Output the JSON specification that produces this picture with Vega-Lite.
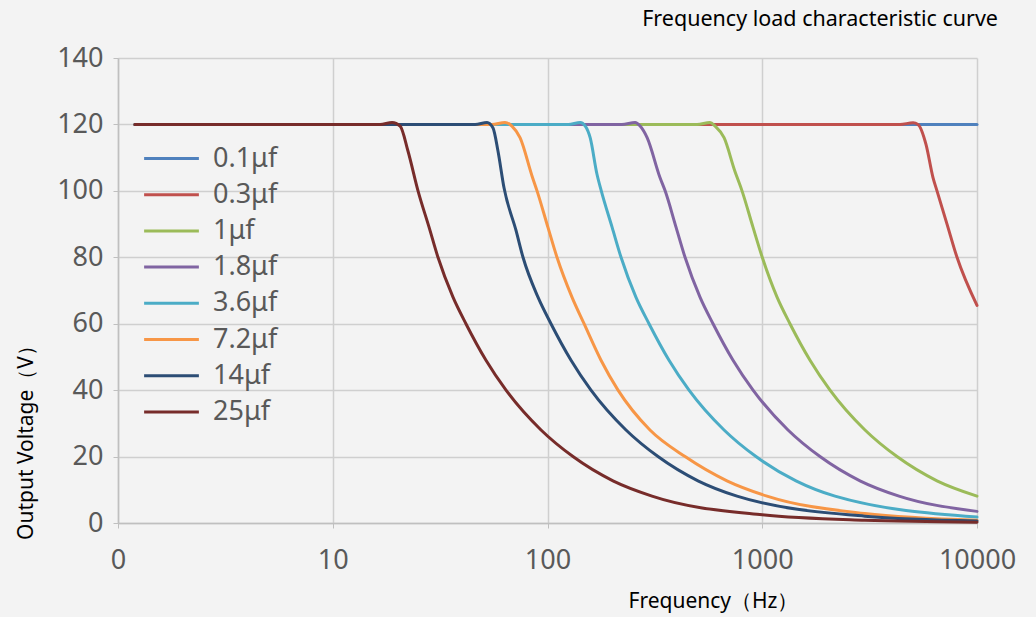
{
  "$schema": "https://vega.github.io/schema/vega-lite/v6.json",
  "width": 859,
  "height": 465,
  "autosize": "none",
  "padding": {"left": 118, "top": 58, "right": 59, "bottom": 94},
  "background": "#f3f3f3",
  "title": {
    "text": "Frequency load characteristic curve",
    "anchor": "end",
    "frame": "group",
    "dx": 21,
    "offset": 14,
    "font": "Noto Sans",
    "fontSize": 21.5,
    "fontWeight": "normal",
    "color": "#000000"
  },
  "config": {
    "view": {"stroke": null},
    "font": "Noto Sans"
  },
  "data": {
    "values": [
      {"series": "0.1μf", "f": 1.2, "v": 120},
      {"series": "0.1μf", "f": 10000, "v": 120},

      {"series": "0.3μf", "f": 1.2, "v": 120},
      {"series": "0.3μf", "f": 4380, "v": 120},
      {"series": "0.3μf", "f": 5035, "v": 120.5},
      {"series": "0.3μf", "f": 5313, "v": 120},
      {"series": "0.3μf", "f": 5787, "v": 114},
      {"series": "0.3μf", "f": 6239, "v": 104},
      {"series": "0.3μf", "f": 6512, "v": 100},
      {"series": "0.3μf", "f": 7251, "v": 90},
      {"series": "0.3μf", "f": 8071, "v": 80},
      {"series": "0.3μf", "f": 10000, "v": 65.5},

      {"series": "1μf", "f": 1.2, "v": 120},
      {"series": "1μf", "f": 497, "v": 120},
      {"series": "1μf", "f": 571, "v": 120.6},
      {"series": "1μf", "f": 603, "v": 119.5},
      {"series": "1μf", "f": 664, "v": 116},
      {"series": "1μf", "f": 745, "v": 106},
      {"series": "1μf", "f": 805, "v": 100},
      {"series": "1μf", "f": 906, "v": 89},
      {"series": "1μf", "f": 1000, "v": 80},
      {"series": "1μf", "f": 1172, "v": 68},
      {"series": "1μf", "f": 1346, "v": 60},
      {"series": "1μf", "f": 1669, "v": 49},
      {"series": "1μf", "f": 2068, "v": 40},
      {"series": "1μf", "f": 3009, "v": 28},
      {"series": "1μf", "f": 4241, "v": 20},
      {"series": "1μf", "f": 6512, "v": 12.7},
      {"series": "1μf", "f": 10000, "v": 8.1},

      {"series": "1.8μf", "f": 1.2, "v": 120},
      {"series": "1.8μf", "f": 222, "v": 120},
      {"series": "1.8μf", "f": 256, "v": 120.6},
      {"series": "1.8μf", "f": 270, "v": 119.5},
      {"series": "1.8μf", "f": 291, "v": 116},
      {"series": "1.8μf", "f": 334, "v": 104},
      {"series": "1.8μf", "f": 353, "v": 100},
      {"series": "1.8μf", "f": 397, "v": 89},
      {"series": "1.8μf", "f": 437, "v": 80},
      {"series": "1.8μf", "f": 513, "v": 68},
      {"series": "1.8μf", "f": 590, "v": 60},
      {"series": "1.8μf", "f": 731, "v": 49},
      {"series": "1.8μf", "f": 906, "v": 40},
      {"series": "1.8μf", "f": 1318, "v": 28},
      {"series": "1.8μf", "f": 1857, "v": 20},
      {"series": "1.8μf", "f": 2852, "v": 12.7},
      {"series": "1.8μf", "f": 4333, "v": 8.1},
      {"series": "1.8μf", "f": 10000, "v": 3.5},

      {"series": "3.6μf", "f": 1.2, "v": 120},
      {"series": "3.6μf", "f": 125, "v": 120},
      {"series": "3.6μf", "f": 142, "v": 120.6},
      {"series": "3.6μf", "f": 150, "v": 119.5},
      {"series": "3.6μf", "f": 158, "v": 116},
      {"series": "3.6μf", "f": 170, "v": 105},
      {"series": "3.6μf", "f": 178, "v": 100},
      {"series": "3.6μf", "f": 200, "v": 89},
      {"series": "3.6μf", "f": 220, "v": 80},
      {"series": "3.6μf", "f": 258, "v": 68},
      {"series": "3.6μf", "f": 297, "v": 60},
      {"series": "3.6μf", "f": 368, "v": 49},
      {"series": "3.6μf", "f": 456, "v": 40},
      {"series": "3.6μf", "f": 664, "v": 28},
      {"series": "3.6μf", "f": 935, "v": 20},
      {"series": "3.6μf", "f": 1436, "v": 12.7},
      {"series": "3.6μf", "f": 2182, "v": 8.1},
      {"series": "3.6μf", "f": 10000, "v": 1.8},

      {"series": "7.2μf", "f": 1.2, "v": 120},
      {"series": "7.2μf", "f": 55, "v": 120},
      {"series": "7.2μf", "f": 63.4, "v": 120.6},
      {"series": "7.2μf", "f": 68.3, "v": 119.5},
      {"series": "7.2μf", "f": 74.5, "v": 116},
      {"series": "7.2μf", "f": 84.7, "v": 104.5},
      {"series": "7.2μf", "f": 89.4, "v": 100},
      {"series": "7.2μf", "f": 100.5, "v": 89},
      {"series": "7.2μf", "f": 110.7, "v": 80},
      {"series": "7.2μf", "f": 130, "v": 68},
      {"series": "7.2μf", "f": 148, "v": 60},
      {"series": "7.2μf", "f": 177.5, "v": 49},
      {"series": "7.2μf", "f": 213, "v": 40},
      {"series": "7.2μf", "f": 300, "v": 28},
      {"series": "7.2μf", "f": 437, "v": 20},
      {"series": "7.2μf", "f": 685, "v": 12.7},
      {"series": "7.2μf", "f": 1052, "v": 8.1},
      {"series": "7.2μf", "f": 3000, "v": 2.85},
      {"series": "7.2μf", "f": 10000, "v": 0.85},

      {"series": "14μf", "f": 1.2, "v": 120},
      {"series": "14μf", "f": 46, "v": 120},
      {"series": "14μf", "f": 52.3, "v": 120.6},
      {"series": "14μf", "f": 55.7, "v": 119},
      {"series": "14μf", "f": 58.8, "v": 112},
      {"series": "14μf", "f": 62.7, "v": 101},
      {"series": "14μf", "f": 71.4, "v": 88},
      {"series": "14μf", "f": 76.9, "v": 80},
      {"series": "14μf", "f": 90.3, "v": 68},
      {"series": "14μf", "f": 103.8, "v": 60},
      {"series": "14μf", "f": 128.7, "v": 49},
      {"series": "14μf", "f": 159.4, "v": 40},
      {"series": "14μf", "f": 232, "v": 28},
      {"series": "14μf", "f": 327, "v": 20},
      {"series": "14μf", "f": 502, "v": 12.7},
      {"series": "14μf", "f": 763, "v": 8.1},
      {"series": "14μf", "f": 3000, "v": 2.06},
      {"series": "14μf", "f": 10000, "v": 0.62},

      {"series": "25μf", "f": 1.2, "v": 120},
      {"series": "25μf", "f": 16.6, "v": 120},
      {"series": "25μf", "f": 18.9, "v": 120.6},
      {"series": "25μf", "f": 20.6, "v": 119.5},
      {"series": "25μf", "f": 22.4, "v": 112},
      {"series": "25μf", "f": 24.95, "v": 100},
      {"series": "25μf", "f": 28.1, "v": 89},
      {"series": "25μf", "f": 30.9, "v": 80},
      {"series": "25μf", "f": 36.3, "v": 68},
      {"series": "25μf", "f": 41.7, "v": 60},
      {"series": "25μf", "f": 51.7, "v": 49},
      {"series": "25μf", "f": 64.1, "v": 40},
      {"series": "25μf", "f": 93.3, "v": 28},
      {"series": "25μf", "f": 131.4, "v": 20},
      {"series": "25μf", "f": 201.8, "v": 12.7},
      {"series": "25μf", "f": 306.6, "v": 8.1},
      {"series": "25μf", "f": 1000, "v": 2.45},
      {"series": "25μf", "f": 3000, "v": 0.82},
      {"series": "25μf", "f": 10000, "v": 0.25}
    ]
  },
  "mark": {"type": "line", "interpolate": "monotone", "strokeWidth": 3, "strokeCap": "round"},
  "encoding": {
    "x": {
      "field": "f",
      "type": "quantitative",
      "scale": {"type": "log", "domain": [1, 10000], "nice": false},
      "axis": {
        "values": [1, 10, 100, 1000, 10000],
        "labelExpr": "datum.value == 1 ? '0' : format(datum.value, 'd')",
        "title": "Frequency（Hz）",
        "titleX": 595,
        "titleY": 78,
        "titleAlign": "center",
        "titleBaseline": "middle",
        "titleFont": "Noto Sans",
        "titleFontSize": 21,
        "titleFontWeight": "normal",
        "titleColor": "#000000",
        "labelFont": "Noto Sans",
        "labelFontSize": 27,
        "labelColor": "#595959",
        "labelPadding": 19,
        "tickSize": 5,
        "tickColor": "#bfbfbf",
        "domainColor": "#bfbfbf",
        "domainWidth": 1.5,
        "gridColor": "#cfcfcf",
        "gridWidth": 1.5,
        "labelFlush": false
      }
    },
    "y": {
      "field": "v",
      "type": "quantitative",
      "scale": {"domain": [0, 140], "nice": false},
      "axis": {
        "values": [0, 20, 40, 60, 80, 100, 120, 140],
        "title": "Output Voltage（V）",
        "titleX": -92,
        "titleY": 379,
        "titleAngle": -90,
        "titleAlign": "center",
        "titleBaseline": "middle",
        "titleFont": "Noto Sans",
        "titleFontSize": 21,
        "titleFontWeight": "normal",
        "titleColor": "#000000",
        "labelFont": "Noto Sans",
        "labelFontSize": 27,
        "labelColor": "#595959",
        "labelPadding": 10,
        "tickSize": 5,
        "tickColor": "#bfbfbf",
        "domainColor": "#bfbfbf",
        "domainWidth": 1.5,
        "gridColor": "#cfcfcf",
        "gridWidth": 1.5,
        "labelFlush": false
      }
    },
    "color": {
      "field": "series",
      "type": "nominal",
      "sort": ["0.1μf", "0.3μf", "1μf", "1.8μf", "3.6μf", "7.2μf", "14μf", "25μf"],
      "scale": {
        "domain": ["0.1μf", "0.3μf", "1μf", "1.8μf", "3.6μf", "7.2μf", "14μf", "25μf"],
        "range": ["#4f81bd", "#c0504d", "#9bbb59", "#8064a2", "#4bacc6", "#f79646", "#2c4d75", "#772c2a"]
      },
      "legend": {
        "title": null,
        "orient": "none",
        "legendX": 38,
        "legendY": 85,
        "symbolType": "M-2,0H2",
        "symbolSize": 750,
        "symbolStrokeWidth": 3,
        "labelFont": "Noto Sans",
        "labelFontSize": 27,
        "labelColor": "#595959",
        "labelOffset": 26,
        "rowPadding": 7.2,
        "padding": 0
      }
    }
  }
}
